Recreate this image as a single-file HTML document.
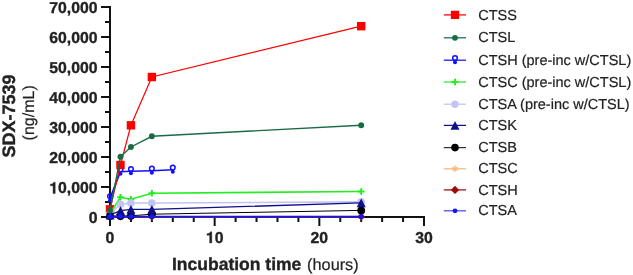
<!DOCTYPE html>
<html><head><meta charset="utf-8"><style>
html,body{margin:0;padding:0;background:#fff;width:633px;height:275px;overflow:hidden}
svg{display:block;will-change:transform;text-rendering:geometricPrecision}
</style></head><body>
<svg width="633" height="275" viewBox="0 0 633 275">
<rect width="633" height="275" fill="#fff"/>
<g stroke="#111" stroke-width="2" fill="none" stroke-linecap="butt">
<path d="M110 6 V218"/>
<path d="M109 217 H425"/>
<path d="M101 217.0 H110"/>
<path d="M105 202.0 H110"/>
<path d="M101 187.0 H110"/>
<path d="M105 172.0 H110"/>
<path d="M101 157.0 H110"/>
<path d="M105 142.0 H110"/>
<path d="M101 127.0 H110"/>
<path d="M105 112.0 H110"/>
<path d="M101 97.0 H110"/>
<path d="M105 82.0 H110"/>
<path d="M101 67.0 H110"/>
<path d="M105 52.0 H110"/>
<path d="M101 37.0 H110"/>
<path d="M105 22.0 H110"/>
<path d="M101 7.0 H110"/>
<path d="M110.00 217 V226"/>
<path d="M130.93 217 V222"/>
<path d="M151.87 217 V222"/>
<path d="M172.80 217 V222"/>
<path d="M193.73 217 V222"/>
<path d="M214.67 217 V226"/>
<path d="M235.60 217 V222"/>
<path d="M256.53 217 V222"/>
<path d="M277.47 217 V222"/>
<path d="M298.40 217 V222"/>
<path d="M319.33 217 V226"/>
<path d="M340.27 217 V222"/>
<path d="M361.20 217 V222"/>
<path d="M382.13 217 V222"/>
<path d="M403.07 217 V222"/>
<path d="M424.00 217 V226"/>
</g>
<g font-family="Liberation Sans" font-weight="bold" font-size="15.8" fill="#222" stroke="#222" stroke-width="0.35" text-anchor="end">
<text x="97.6" y="223.45">0</text>
<text x="97.6" y="193.45">&#8199;0,000</text>
<path transform="translate(49.27 193.45) scale(0.0158 -0.0158)" d="M238 489H68V582Q252 582 285 709H378V0H238Z" stroke-width="22.2"/>
<text x="97.6" y="163.45">20,000</text>
<text x="97.6" y="133.45">30,000</text>
<text x="97.6" y="103.45">40,000</text>
<text x="97.6" y="73.45">50,000</text>
<text x="97.6" y="43.45">60,000</text>
<text x="97.6" y="13.45">70,000</text>
</g>
<g font-family="Liberation Sans" font-weight="bold" font-size="15.8" fill="#222" stroke="#222" stroke-width="0.35" text-anchor="middle">
<text x="110.00" y="243.0">0</text>
<text x="214.67" y="243.0">&#8199;0</text>
<path transform="translate(205.88 243.00) scale(0.0158 -0.0158)" d="M238 489H68V582Q252 582 285 709H378V0H238Z" stroke-width="22.2"/>
<text x="319.33" y="243.0">20</text>
<text x="424.00" y="243.0">30</text>
</g>
<text x="172" y="269.7" font-family="Liberation Sans" fill="#222"><tspan font-weight="bold" font-size="17.5" stroke="#222" stroke-width="0.35">Incubation time</tspan><tspan font-size="16.3" dx="5.8" stroke="#222" stroke-width="0.2">(hours)</tspan></text>
<text transform="translate(15.0 157.5) rotate(-90)" font-family="Liberation Sans" font-weight="bold" font-size="18" fill="#222" stroke="#222" stroke-width="0.35">SDX-7539</text>
<text transform="translate(34.4 140.4) rotate(-90)" font-family="Liberation Sans" font-size="16" fill="#222" stroke="#222" stroke-width="0.2">(ng/mL)</text>
<path d="M110.00 198.40 L120.47 171.70 L130.93 171.20 L151.87 170.70 L172.80 169.80" stroke="#1010ff" stroke-width="1.6" fill="none"/>
<circle cx="110.00" cy="200.40" r="2.0" fill="#1010ff"/><circle cx="110.00" cy="196.20" r="2.3" fill="none" stroke="#1010ff" stroke-width="1.5"/>
<circle cx="120.47" cy="173.70" r="2.0" fill="#1010ff"/><circle cx="120.47" cy="169.50" r="2.3" fill="none" stroke="#1010ff" stroke-width="1.5"/>
<circle cx="130.93" cy="173.20" r="2.0" fill="#1010ff"/><circle cx="130.93" cy="169.00" r="2.3" fill="none" stroke="#1010ff" stroke-width="1.5"/>
<circle cx="151.87" cy="172.70" r="2.0" fill="#1010ff"/><circle cx="151.87" cy="168.50" r="2.3" fill="none" stroke="#1010ff" stroke-width="1.5"/>
<circle cx="172.80" cy="171.80" r="2.0" fill="#1010ff"/><circle cx="172.80" cy="167.60" r="2.3" fill="none" stroke="#1010ff" stroke-width="1.5"/>
<path d="M110.00 209.30 L120.47 165.00 L130.93 125.30 L151.87 77.00 L361.20 26.20" stroke="#ff0000" stroke-width="1.2" fill="none"/>
<rect x="105.80" y="205.10" width="8.4" height="8.4" fill="#ff0000"/>
<rect x="116.27" y="160.80" width="8.4" height="8.4" fill="#ff0000"/>
<rect x="126.73" y="121.10" width="8.4" height="8.4" fill="#ff0000"/>
<rect x="147.67" y="72.80" width="8.4" height="8.4" fill="#ff0000"/>
<rect x="357.00" y="22.00" width="8.4" height="8.4" fill="#ff0000"/>
<path d="M110.00 213.50 L120.47 197.30 L130.93 199.20 L151.87 193.20 L361.20 191.50" stroke="#22ee22" stroke-width="1.6" fill="none"/>
<path d="M106.70 213.50H113.30M110.00 210.20V216.80" stroke="#22ee22" stroke-width="2" fill="none"/>
<path d="M117.17 197.30H123.77M120.47 194.00V200.60" stroke="#22ee22" stroke-width="2" fill="none"/>
<path d="M127.63 199.20H134.23M130.93 195.90V202.50" stroke="#22ee22" stroke-width="2" fill="none"/>
<path d="M148.57 193.20H155.17M151.87 189.90V196.50" stroke="#22ee22" stroke-width="2" fill="none"/>
<path d="M357.90 191.50H364.50M361.20 188.20V194.80" stroke="#22ee22" stroke-width="2" fill="none"/>
<path d="M110.00 213.60 L120.47 204.20 L130.93 203.00 L151.87 203.00 L361.20 201.90" stroke="#c4c4f4" stroke-width="1.6" fill="none"/>
<circle cx="110.00" cy="213.60" r="3.8" fill="#c4c4f4"/>
<circle cx="120.47" cy="204.20" r="3.8" fill="#c4c4f4"/>
<circle cx="130.93" cy="203.00" r="3.8" fill="#c4c4f4"/>
<circle cx="151.87" cy="203.00" r="3.8" fill="#c4c4f4"/>
<circle cx="361.20" cy="201.90" r="3.8" fill="#c4c4f4"/>
<path d="M110.00 216.80 L120.47 216.80 L130.93 216.80 L151.87 216.80 L361.20 216.50" stroke="#f5b87a" stroke-width="1.3" fill="none"/>
<path d="M110.00 213.60L110.00 220.00M112.77 215.20L107.23 218.40M112.77 218.40L107.23 215.20" stroke="#f5b87a" stroke-width="1.3" fill="none"/>
<path d="M120.47 213.60L120.47 220.00M123.24 215.20L117.70 218.40M123.24 218.40L117.70 215.20" stroke="#f5b87a" stroke-width="1.3" fill="none"/>
<path d="M130.93 213.60L130.93 220.00M133.70 215.20L128.16 218.40M133.70 218.40L128.16 215.20" stroke="#f5b87a" stroke-width="1.3" fill="none"/>
<path d="M151.87 213.60L151.87 220.00M154.64 215.20L149.10 218.40M154.64 218.40L149.10 215.20" stroke="#f5b87a" stroke-width="1.3" fill="none"/>
<path d="M361.20 213.30L361.20 219.70M363.97 214.90L358.43 218.10M363.97 218.10L358.43 214.90" stroke="#f5b87a" stroke-width="1.3" fill="none"/>
<path d="M110.00 216.80 L120.47 216.80 L130.93 216.80 L151.87 216.80 L361.20 216.80" stroke="#a00a0a" stroke-width="1.2" fill="none"/>
<path d="M110.00 213.00L113.80 216.80L110.00 220.60L106.20 216.80Z" fill="#a00a0a"/>
<path d="M120.47 213.00L124.27 216.80L120.47 220.60L116.67 216.80Z" fill="#a00a0a"/>
<path d="M130.93 213.00L134.73 216.80L130.93 220.60L127.13 216.80Z" fill="#a00a0a"/>
<path d="M151.87 213.00L155.67 216.80L151.87 220.60L148.07 216.80Z" fill="#a00a0a"/>
<path d="M361.20 213.00L365.00 216.80L361.20 220.60L357.40 216.80Z" fill="#a00a0a"/>
<path d="M110.00 216.00 L120.47 216.00 L130.93 215.80 L151.87 214.20 L361.20 210.40" stroke="#000000" stroke-width="1.0" fill="none"/>
<circle cx="110.00" cy="216.00" r="3.9" fill="#000000"/>
<circle cx="120.47" cy="216.00" r="3.9" fill="#000000"/>
<circle cx="130.93" cy="215.80" r="3.9" fill="#000000"/>
<circle cx="151.87" cy="214.20" r="3.9" fill="#000000"/>
<circle cx="361.20" cy="210.40" r="3.9" fill="#000000"/>
<path d="M110.00 215.00 L120.47 210.60 L130.93 209.40 L151.87 209.40 L361.20 202.90" stroke="#10108a" stroke-width="1.3" fill="none"/>
<path d="M110.00 210.70L114.50 219.40L105.50 219.40Z" fill="#10108a"/>
<path d="M120.47 206.30L124.97 215.00L115.97 215.00Z" fill="#10108a"/>
<path d="M130.93 205.10L135.43 213.80L126.43 213.80Z" fill="#10108a"/>
<path d="M151.87 205.10L156.37 213.80L147.37 213.80Z" fill="#10108a"/>
<path d="M361.20 198.60L365.70 207.30L356.70 207.30Z" fill="#10108a"/>
<path d="M110.00 210.50 L120.47 156.80 L130.93 147.00 L151.87 136.30 L361.20 125.20" stroke="#1a6b45" stroke-width="1.4" fill="none"/>
<circle cx="110.00" cy="210.50" r="2.95" fill="#1a6b45"/>
<circle cx="120.47" cy="156.80" r="2.95" fill="#1a6b45"/>
<circle cx="130.93" cy="147.00" r="2.95" fill="#1a6b45"/>
<circle cx="151.87" cy="136.30" r="2.95" fill="#1a6b45"/>
<circle cx="361.20" cy="125.20" r="2.95" fill="#1a6b45"/>
<path d="M110.00 216.60 L120.47 216.60 L130.93 216.60 L151.87 216.60 L361.20 216.60" stroke="#1515f5" stroke-width="1.7" fill="none"/>
<circle cx="110.00" cy="216.60" r="2.5" fill="#1515f5"/>
<circle cx="120.47" cy="216.60" r="2.5" fill="#1515f5"/>
<circle cx="130.93" cy="216.60" r="2.5" fill="#1515f5"/>
<circle cx="151.87" cy="216.60" r="2.5" fill="#1515f5"/>
<circle cx="361.20" cy="216.60" r="2.5" fill="#1515f5"/>
<path d="M443.8 14.90H466" stroke="#ff0000" stroke-width="1.25"/>
<rect x="450.85" y="10.75" width="8.3" height="8.3" fill="#ff0000"/>
<text x="478.2" y="19.50" font-family="Liberation Sans" font-size="14.5" fill="#222" stroke="#222" stroke-width="0.2">CTSS</text>
<path d="M443.8 37.80H466" stroke="#1a6b45" stroke-width="1.25"/>
<circle cx="455.00" cy="37.80" r="2.9" fill="#1a6b45"/>
<text x="478.2" y="42.40" font-family="Liberation Sans" font-size="14.5" fill="#222" stroke="#222" stroke-width="0.2">CTSL</text>
<path d="M443.8 60.20H466" stroke="#1010ff" stroke-width="1.25"/>
<circle cx="455.00" cy="62.20" r="2.0" fill="#1010ff"/><circle cx="455.00" cy="58.00" r="2.3" fill="none" stroke="#1010ff" stroke-width="1.5"/>
<text x="478.2" y="64.80" font-family="Liberation Sans" font-size="14.5" fill="#222" stroke="#222" stroke-width="0.2">CTSH (pre-inc w/CTSL)</text>
<path d="M443.8 82.00H466" stroke="#22ee22" stroke-width="1.25"/>
<path d="M451.70 82.00H458.30M455.00 78.70V85.30" stroke="#22ee22" stroke-width="2" fill="none"/>
<text x="478.2" y="86.60" font-family="Liberation Sans" font-size="14.5" fill="#222" stroke="#222" stroke-width="0.2">CTSC (pre-inc w/CTSL)</text>
<path d="M443.8 104.20H466" stroke="#c4c4f4" stroke-width="1.25"/>
<circle cx="455.00" cy="104.20" r="3.7" fill="#c4c4f4"/>
<text x="478.2" y="108.80" font-family="Liberation Sans" font-size="14.5" fill="#222" stroke="#222" stroke-width="0.2">CTSA (pre-inc w/CTSL)</text>
<path d="M443.8 125.40H466" stroke="#10108a" stroke-width="1.25"/>
<path d="M455.00 121.10L459.50 129.80L450.50 129.80Z" fill="#10108a"/>
<text x="478.2" y="130.00" font-family="Liberation Sans" font-size="14.5" fill="#222" stroke="#222" stroke-width="0.2">CTSK</text>
<path d="M443.8 147.60H466" stroke="#333333" stroke-width="1.25"/>
<circle cx="455.00" cy="147.60" r="3.8" fill="#000000"/>
<text x="478.2" y="152.20" font-family="Liberation Sans" font-size="14.5" fill="#222" stroke="#222" stroke-width="0.2">CTSB</text>
<path d="M443.8 168.80H466" stroke="#f5b87a" stroke-width="1.25"/>
<path d="M455.00 165.60L455.00 172.00M457.77 167.20L452.23 170.40M457.77 170.40L452.23 167.20" stroke="#f5b87a" stroke-width="1.3" fill="none"/>
<text x="478.2" y="173.40" font-family="Liberation Sans" font-size="14.5" fill="#222" stroke="#222" stroke-width="0.2">CTSC</text>
<path d="M443.8 189.90H466" stroke="#a00a0a" stroke-width="1.25"/>
<path d="M455.00 185.70L459.20 189.90L455.00 194.10L450.80 189.90Z" fill="#a00a0a"/>
<text x="478.2" y="194.50" font-family="Liberation Sans" font-size="14.5" fill="#222" stroke="#222" stroke-width="0.2">CTSH</text>
<path d="M443.8 210.80H466" stroke="#4848ff" stroke-width="1.25"/>
<circle cx="455.00" cy="210.80" r="2.4" fill="#1515f5"/>
<text x="478.2" y="215.40" font-family="Liberation Sans" font-size="14.5" fill="#222" stroke="#222" stroke-width="0.2">CTSA</text>
</svg>
</body></html>
